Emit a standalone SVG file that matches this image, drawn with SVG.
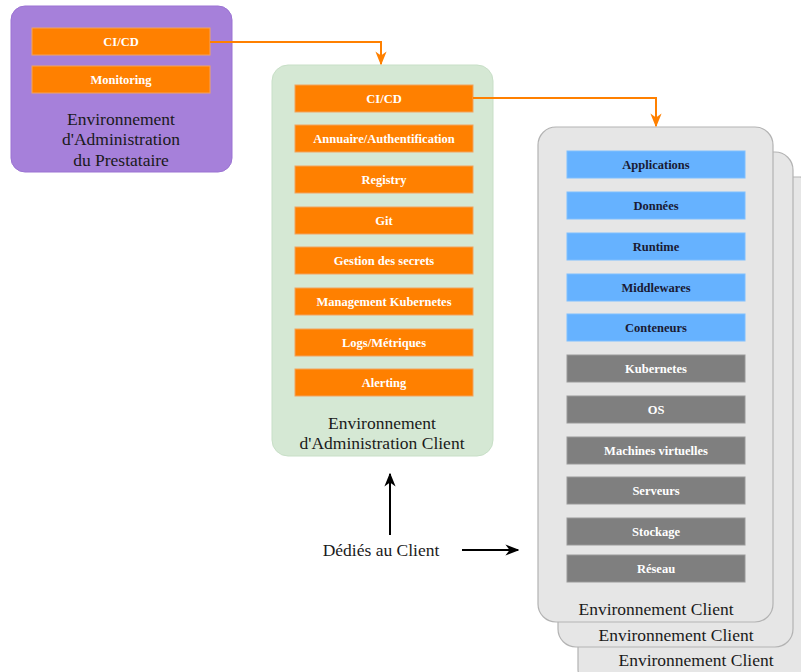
<svg xmlns="http://www.w3.org/2000/svg" width="801" height="672" viewBox="0 0 801 672">
<defs>
<style>
text{font-family:'Liberation Serif','Times New Roman',Times,serif}
.bar{font-weight:bold;font-size:12.5px;text-anchor:middle;dominant-baseline:central}
.wt{fill:#ffffff}
.dk{fill:#1a1a33}
.lbl{font-size:17.5px;text-anchor:middle;fill:#1a1a1a}
.or{fill:#ff8000;stroke:#f2a35e;stroke-width:1}
.bl{fill:#66b2ff;stroke:#7fbfff;stroke-width:1}
.gr{fill:#7f7f7f;stroke:#999999;stroke-width:1}
.env{fill:#e6e6e6;stroke:#b3b3b3;stroke-width:1.2}
</style>
<marker id="ao" viewBox="0 0 10 10" refX="9" refY="5" markerWidth="7" markerHeight="7" orient="auto"><path d="M0,1 L10,5 L0,9 L3,5 z" fill="#ff8000"/></marker>
<marker id="ab" viewBox="0 0 10 10" refX="9" refY="5" markerWidth="7" markerHeight="7" orient="auto"><path d="M0,1 L10,5 L0,9 L3,5 z" fill="#000000"/></marker>
</defs>
<rect width="801" height="672" fill="#ffffff"/>

<g id="env-client-3">
<rect class="env" x="578" y="177" width="240" height="510" rx="18"/>
<text class="lbl" x="696" y="666">Environnement Client</text>
</g>
<g id="env-client-2">
<rect class="env" x="558" y="152" width="235" height="495" rx="18"/>
<text class="lbl" x="676" y="641">Environnement Client</text>
</g>

<g id="admin-prestataire">
<rect x="11" y="6" width="221" height="166" rx="14" fill="#a680da" stroke="#9b73d3" stroke-width="1"/>
<rect class="or" x="32" y="28" width="178" height="27"/>
<text class="bar wt" x="121" y="41.5">CI/CD</text>
<rect class="or" x="32" y="66" width="178" height="27"/>
<text class="bar wt" x="121" y="79.5">Monitoring</text>
<text class="lbl" x="121" y="124.5">Environnement</text>
<text class="lbl" x="121" y="145">d'Administration</text>
<text class="lbl" x="121" y="165.5">du Prestataire</text>
</g>

<g id="admin-client">
<rect x="272" y="65" width="221" height="391" rx="16" fill="#d5e8d4" stroke="#c8dfc7" stroke-width="1"/>
<rect class="or" x="295" y="85" width="178" height="27"/>
<text class="bar wt" x="384" y="98.5">CI/CD</text>
<rect class="or" x="295" y="125" width="178" height="27"/>
<text class="bar wt" x="384" y="138.5">Annuaire/Authentification</text>
<rect class="or" x="295" y="166" width="178" height="27"/>
<text class="bar wt" x="384" y="179.5">Registry</text>
<rect class="or" x="295" y="207" width="178" height="27"/>
<text class="bar wt" x="384" y="220.5">Git</text>
<rect class="or" x="295" y="247" width="178" height="27"/>
<text class="bar wt" x="384" y="260.5">Gestion des secrets</text>
<rect class="or" x="295" y="288" width="178" height="27"/>
<text class="bar wt" x="384" y="301.5">Management Kubernetes</text>
<rect class="or" x="295" y="329" width="178" height="27"/>
<text class="bar wt" x="384" y="342.5">Logs/Métriques</text>
<rect class="or" x="295" y="369" width="178" height="27"/>
<text class="bar wt" x="384" y="382.5">Alerting</text>
<text class="lbl" x="382" y="429">Environnement</text>
<text class="lbl" x="382" y="449">d'Administration Client</text>
</g>

<g id="env-client-1">
<rect class="env" x="538" y="127" width="235" height="495" rx="18"/>
<rect class="bl" x="567" y="151" width="178" height="27"/>
<text class="bar dk" x="656" y="164.5">Applications</text>
<rect class="bl" x="567" y="192" width="178" height="27"/>
<text class="bar dk" x="656" y="205.5">Données</text>
<rect class="bl" x="567" y="233" width="178" height="27"/>
<text class="bar dk" x="656" y="246.5">Runtime</text>
<rect class="bl" x="567" y="274" width="178" height="27"/>
<text class="bar dk" x="656" y="287.5">Middlewares</text>
<rect class="bl" x="567" y="314" width="178" height="27"/>
<text class="bar dk" x="656" y="327.5">Conteneurs</text>
<rect class="gr" x="567" y="355" width="178" height="27"/>
<text class="bar wt" x="656" y="368.5">Kubernetes</text>
<rect class="gr" x="567" y="396" width="178" height="27"/>
<text class="bar wt" x="656" y="409.5">OS</text>
<rect class="gr" x="567" y="437" width="178" height="27"/>
<text class="bar wt" x="656" y="450.5">Machines virtuelles</text>
<rect class="gr" x="567" y="477" width="178" height="27"/>
<text class="bar wt" x="656" y="490.5">Serveurs</text>
<rect class="gr" x="567" y="518" width="178" height="27"/>
<text class="bar wt" x="656" y="531.5">Stockage</text>
<rect class="gr" x="567" y="555" width="178" height="27"/>
<text class="bar wt" x="656" y="568.5">Réseau</text>
<text class="lbl" x="656" y="615">Environnement Client</text>
</g>

<g id="label-dedies">
<text class="lbl" x="381" y="556">Dédiés au Client</text>
</g>

<g id="connectors" fill="none">
<path d="M210,42 H381 V64" stroke="#ff8000" stroke-width="2" marker-end="url(#ao)"/>
<path d="M473,98 H656 V126" stroke="#ff8000" stroke-width="2" marker-end="url(#ao)"/>
<path d="M390,535 V474" stroke="#000000" stroke-width="2" marker-end="url(#ab)"/>
<path d="M462,550 H518" stroke="#000000" stroke-width="2" marker-end="url(#ab)"/>
</g>
</svg>
